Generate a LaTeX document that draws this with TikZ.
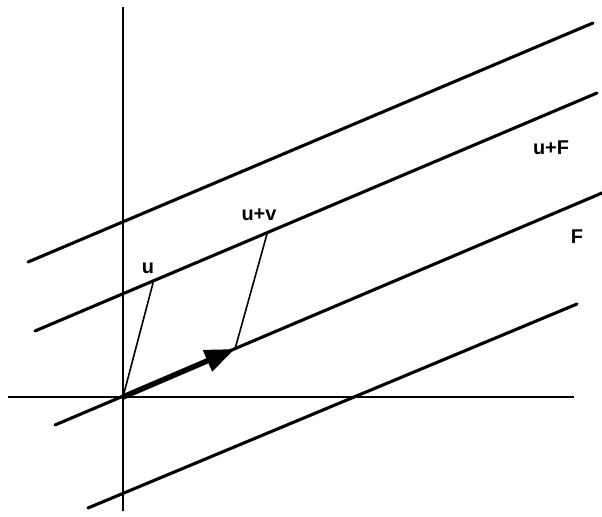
\documentclass[tikz,border=0pt]{standalone}
\usepackage{fontspec}
\setmainfont{Liberation Sans}
\usetikzlibrary{arrows.meta}
\begin{document}
\begin{tikzpicture}[x=1bp,y=-1bp,
  axis/.style={line width=2bp},
  family/.style={line width=3.1bp, line cap=round},
  thin/.style={line width=1.6bp},
  lbl/.style={font=\bfseries\fontsize{20}{20}\selectfont, inner sep=0pt},
  vec/.style={line width=5.5bp, -{Triangle[length=30bp,width=22bp]}}]
\useasboundingbox (0,0) rectangle (602,517);
% axes
\coordinate (vtop) at (123,7);
\coordinate (vbot) at (123,511);
\coordinate (hl) at (8,397);
\coordinate (hr) at (574,397);
\coordinate (O) at (123,397);
\draw[axis] (vtop) -- (vbot);
\draw[axis] (hl) -- (hr);
% parallel lines
\coordinate (t1) at (28,262);  \coordinate (t2) at (593,23);
\coordinate (s1) at (35,331);  \coordinate (s2) at (597,93);
\coordinate (f1) at (55,425);  \coordinate (f2) at (602,193);
\coordinate (b1) at (88,508);  \coordinate (b2) at (577,304);
\draw[family] (t1) -- (t2);
\draw[family] (s1) -- (s2);
\draw[family] (f1) -- (f2);
\draw[family] (b1) -- (b2);
% vectors
\coordinate (U) at (153,283);
\coordinate (UV) at (267,234);
\coordinate (V) at (235,349);
\draw[thin] (O) -- (U);
\draw[thin] (UV) -- (V);
\draw[vec] (O) -- (V);
% labels
\node[lbl] (lu) at (148,268) {u};
\node[lbl] (luv) at (259,215) {u+v};
\node[lbl] (luF) at (551,148) {u+F};
\node[lbl] (lF) at (577,237) {F};
\end{tikzpicture}
\end{document}
